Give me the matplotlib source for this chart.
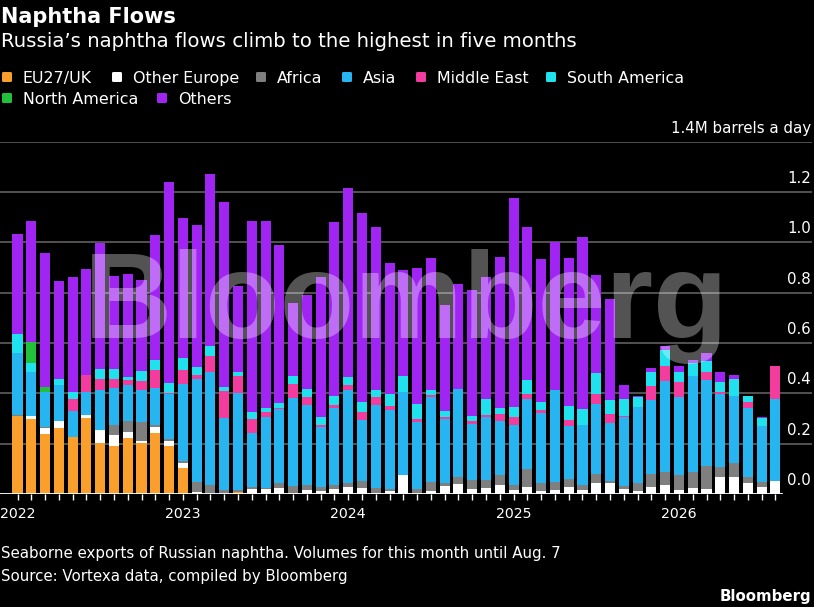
import matplotlib
matplotlib.use("Agg")
import matplotlib.pyplot as plt
from matplotlib.patches import FancyBboxPatch
from matplotlib.transforms import blended_transform_factory
import numpy as np

plt.rcParams['font.family'] = ['DejaVu Sans']

# monthly, Jan 2022 .. Aug 2026 (million barrels a day)
n_months = 56
years = ['2022', '2023', '2024', '2025', '2026']

eu27_uk = [0.31, 0.30, 0.238, 0.264, 0.225, 0.301, 0.201, 0.191, 0.224, 0.201, 0.244, 0.191,
           0.105, 0, 0, 0, 0.008, 0, 0, 0, 0.005, 0, 0, 0,
           0, 0, 0, 0, 0, 0, 0, 0, 0, 0, 0, 0,
           0, 0, 0, 0, 0, 0, 0, 0, 0, 0, 0, 0,
           0, 0, 0, 0, 0, 0, 0, 0]
other_europe = [0, 0.008, 0.023, 0.027, 0, 0.013, 0.053, 0.042, 0.022, 0.01, 0.024, 0.018,
                0.017, 0.009, 0, 0, 0, 0.019, 0.019, 0.023, 0, 0.016, 0.013, 0.019,
                0.026, 0.023, 0.005, 0.013, 0.075, 0, 0.01, 0.032, 0.04, 0.019, 0.023, 0.036,
                0.016, 0.026, 0.013, 0.016, 0.029, 0.014, 0.042, 0.045, 0.019, 0.013, 0.026, 0.036,
                0.016, 0.023, 0.019, 0.066, 0.069, 0.042, 0.026, 0.053]
africa = [0.005, 0, 0.007, 0, 0, 0, 0, 0.042, 0.045, 0.075, 0.005, 0.008,
          0.01, 0.037, 0.036, 0.016, 0.008, 0.01, 0.006, 0.019, 0.027, 0.02, 0.016, 0.015,
          0.016, 0.03, 0.018, 0.005, 0, 0.019, 0.038, 0.013, 0.026, 0.037, 0.033, 0.038,
          0.018, 0.072, 0.029, 0.032, 0.029, 0.021, 0.037, 0.005, 0.014, 0.032, 0.053, 0.053,
          0.059, 0.066, 0.092, 0.043, 0.053, 0.027, 0.023, 0]
asia = [0.247, 0.177, 0.137, 0.142, 0.106, 0.091, 0.159, 0.146, 0.141, 0.127, 0.148, 0.18,
        0.305, 0.41, 0.45, 0.286, 0.387, 0.212, 0.282, 0.294, 0.351, 0.316, 0.236, 0.309,
        0.371, 0.241, 0.332, 0.316, 0.332, 0.267, 0.339, 0.252, 0.353, 0.222, 0.249, 0.217,
        0.241, 0.278, 0.279, 0.365, 0.214, 0.239, 0.277, 0.231, 0.274, 0.302, 0.295, 0.361,
        0.309, 0.38, 0.342, 0.288, 0.267, 0.271, 0.223, 0.323]
middle_east = [0, 0, 0, 0, 0.048, 0.068, 0.043, 0.037, 0.021, 0.037, 0.072, 0.006,
               0.056, 0.018, 0.062, 0.107, 0.066, 0.058, 0.018, 0.007, 0.053, 0.032, 0.01, 0.009,
               0.02, 0.031, 0.032, 0.016, 0, 0.013, 0.006, 0.01, 0, 0.013, 0.01, 0.027,
               0.03, 0.021, 0.013, 0, 0.022, 0, 0.041, 0.037, 0.004, 0, 0.055, 0.059,
               0.061, 0, 0.032, 0.01, 0, 0.027, 0, 0.133]
south_america = [0.074, 0.037, 0, 0.024, 0.026, 0, 0.042, 0.037, 0.011, 0.037, 0.038, 0.037,
                 0.049, 0.032, 0.04, 0.017, 0.017, 0.026, 0.015, 0.02, 0.033, 0.032, 0.032, 0.039,
                 0.031, 0.042, 0.026, 0.046, 0.062, 0.057, 0.02, 0.024, 0, 0.019, 0.061, 0.024,
                 0.039, 0.056, 0.033, 0, 0.056, 0.062, 0.085, 0.056, 0.066, 0.04, 0.054, 0.063,
                 0.04, 0.05, 0.045, 0.038, 0.069, 0.024, 0.029, 0]
north_america = [0, 0.081, 0.02] + [0] * 53
others = [0.396, 0.482, 0.531, 0.388, 0.456, 0.422, 0.501, 0.37, 0.41, 0.362, 0.497, 0.798,
          0.553, 0.562, 0.684, 0.736, 0.339, 0.76, 0.745, 0.628, 0.291, 0.374, 0.555, 0.69,
          0.752, 0.751, 0.649, 0.522, 0.42, 0.544, 0.524, 0.422, 0.416, 0.50, 0.487, 0.599,
          0.831, 0.609, 0.565, 0.588, 0.588, 0.687, 0.388, 0.40, 0.057, 0.004, 0.018, 0.017,
          0.022, 0.013, 0.032, 0.038, 0.016, 0, 0.004, 0]

series = [
    ('EU27/UK', eu27_uk, '#FA9E2C'),
    ('Other Europe', other_europe, '#FFFFFF'),
    ('Africa', africa, '#7F7F7F'),
    ('Asia', asia, '#27B5F2'),
    ('Middle East', middle_east, '#F33C9E'),
    ('South America', south_america, '#1FE2EE'),
    ('North America', north_america, '#22C13B'),
    ('Others', others, '#A025F2'),
]

W, H = 814, 607
fig = plt.figure(figsize=(W / 100, H / 100), dpi=100, facecolor='black')
ax = fig.add_axes([0, 1 - 494 / H, 812 / W, (494 - 141.7) / H])
ax.set_facecolor('black')

x = np.arange(n_months)
bottom = np.zeros(n_months)
for name, vals, color in series:
    vals = np.array(vals)
    ax.bar(x, vals, bottom=bottom, width=0.73, color=color, linewidth=0, zorder=2)
    bottom += vals

ax.set_xlim(-17.5 / 13.78, (812 - 17.5) / 13.78)
ax.set_ylim(0, 1.4)

for s in ax.spines.values():
    s.set_visible(False)

# gridlines and right-side labels
trans = blended_transform_factory(ax.transAxes, ax.transData)
for v in [0.2, 0.4, 0.6, 0.8, 1.0, 1.2, 1.4]:
    ax.axhline(v, color='#5f5f5f', lw=1.2, zorder=1)
for v, lab in [(0.0, '0.0'), (0.2, '0.2'), (0.4, '0.4'), (0.6, '0.6'), (0.8, '0.8'),
               (1.0, '1.0'), (1.2, '1.2'), (1.4, '1.4M barrels a day')]:
    ax.text(0.999, v + 0.036, lab, transform=trans, ha='right', va='baseline',
            color='white', fontsize=10.8)
ax.axhline(0, xmin=0, xmax=782 / 812, color='white', lw=1.3, zorder=3)

ax.set_yticks([])
ax.set_xticks(x, minor=True)
ax.set_xticks(x[::12])
ax.set_xticklabels(years)
ax.tick_params(axis='x', which='both', colors='white', length=4.5, width=1, pad=5,
               labelsize=10.2)

# watermark
fig.text(406 / W, 1 - 338 / H, 'Bloomberg', color='white', alpha=0.33,
         family='Liberation Sans', weight='bold', fontsize=88,
         ha='center', va='baseline', zorder=10)

# title, subtitle
fig.text(1 / W, 1 - 23 / H, 'Naphtha Flows', color='white', weight='bold',
         fontsize=15, va='baseline')
fig.text(1 / W, 1 - 47 / H, 'Russia\u2019s naphtha flows climb to the highest in five months',
         color='white', fontsize=14.2, va='baseline')

# legend (text x, baseline y in pixels)
legend_pos = [(23, 83), (133, 83), (277, 83), (363, 83), (437, 83), (567, 83),
              (23, 104), (178, 104)]
for (name, vals, color), (lx, ly) in zip(series, legend_pos):
    sq = FancyBboxPatch(((lx - 21) / W, 1 - (ly - 1) / H), 10 / W, 10 / H,
                        boxstyle='round,pad=0,rounding_size=0.002',
                        transform=fig.transFigure, facecolor=color, edgecolor='none')
    fig.patches.append(sq)
    fig.text(lx / W, 1 - ly / H, name, color='white', fontsize=11.4, va='baseline')

# footer
fig.text(1 / W, 1 - 558 / H,
         'Seaborne exports of Russian naphtha. Volumes for this month until Aug. 7',
         color='white', fontsize=10.8, va='baseline')
fig.text(1 / W, 1 - 581 / H, 'Source: Vortexa data, compiled by Bloomberg',
         color='white', fontsize=10.8, va='baseline')
fig.text(811 / W, 1 - 601 / H, 'Bloomberg', color='white', weight='bold',
         fontsize=10.8, ha='right', va='baseline')

fig.savefig('out.png', dpi=100, facecolor='black')
